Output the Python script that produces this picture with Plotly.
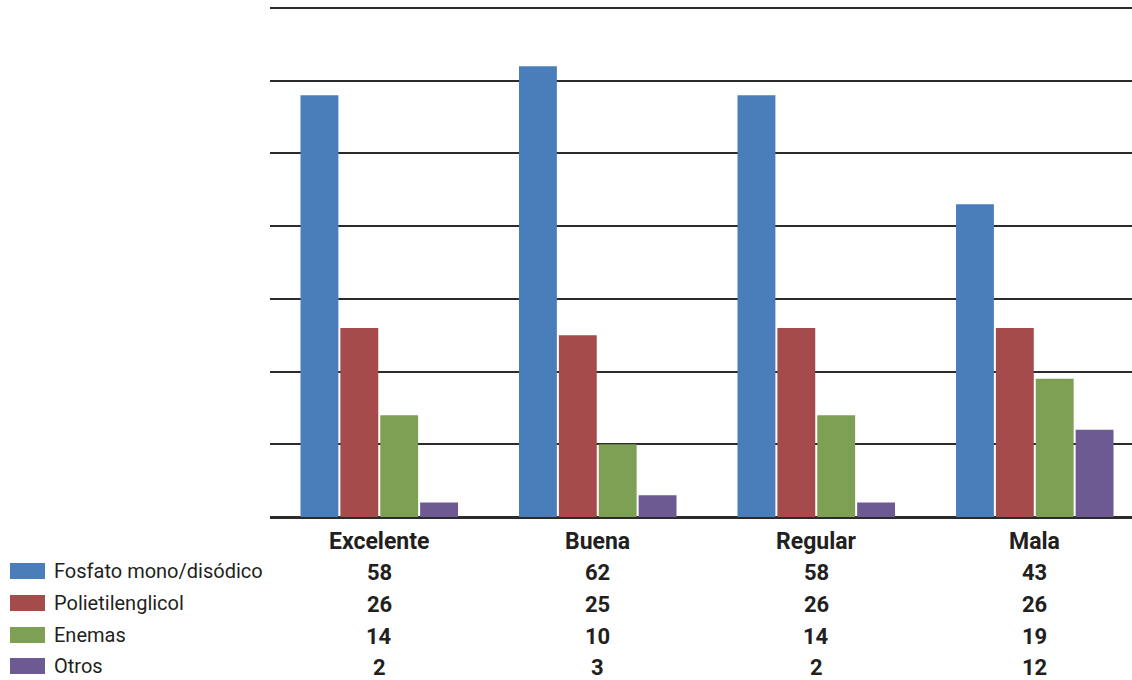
import plotly.graph_objects as go

categories = ["Excelente", "Buena", "Regular", "Mala"]
series_names = ["Fosfato mono/disódico", "Polietilenglicol", "Enemas", "Otros"]
fosfato = [58, 62, 58, 43]
polietilenglicol = [26, 25, 26, 26]
enemas = [14, 10, 14, 19]
otros = [2, 3, 2, 12]
series_values = [fosfato, polietilenglicol, enemas, otros]
colors = ["#4a7ebb", "#a64b4b", "#7ea055", "#6e5a93"]

W, H = 1132, 680
ML, MT, MB = 270, 6, 163
Y_TOP = 70.28
plot_h = H - MT - MB
plot_w = W - ML

fig = go.Figure()
for name, vals, col in zip(series_names, series_values, colors):
    fig.add_trace(go.Bar(name=name, x=categories, y=vals, marker=dict(color=col, line=dict(width=0)),
                         showlegend=False))

text_col = "#231f20"
font_fam = "Roboto"

def py(pix):
    # pixel row -> paper y
    return (H - MB - pix) / plot_h

def px(pix):
    return (pix - ML) / plot_w

annotations = []
# category headers
for c in categories:
    annotations.append(dict(x=c, xref="x", y=py(541), yref="paper", text=f"<b>{c}</b>",
                            showarrow=False, font=dict(family=font_fam, size=23, color=text_col),
                            xanchor="center", yanchor="middle"))
row_y = [571, 603, 635, 666]
shapes = []
for name, vals, col, ry in zip(series_names, series_values, colors, row_y):
    annotations.append(dict(x=px(52), xref="paper", y=py(ry), yref="paper", text=name,
                            showarrow=False, font=dict(family=font_fam, size=20, color=text_col),
                            xanchor="left", yanchor="middle", height=22))
    shapes.append(dict(type="rect", xref="paper", yref="paper", x0=px(10), x1=px(45),
                       y0=py(ry + 8), y1=py(ry - 8), fillcolor=col, line=dict(width=0)))
    for c, v in zip(categories, vals):
        annotations.append(dict(x=c, xref="x", y=py(ry + 1), yref="paper", text=f"<b>{v}</b>",
                                showarrow=False, font=dict(family=font_fam, size=22, color=text_col),
                                xanchor="center", yanchor="middle", height=22))

fig.update_layout(
    width=W, height=H,
    margin=dict(l=ML, r=0, t=MT, b=MB, pad=0),
    barmode="group", bargap=0.27, bargroupgap=0.05,
    plot_bgcolor="white", paper_bgcolor="white",
    xaxis=dict(range=[-0.5, 3.445], showticklabels=False, showgrid=False, zeroline=False,
               showline=False, ticks=""),
    yaxis=dict(range=[0, Y_TOP], tickvals=list(range(0, 71, 10)), showticklabels=False, showgrid=True,
               gridcolor="#2b2b2b", gridwidth=2, zeroline=True, zerolinecolor="#2b2b2b",
               zerolinewidth=3, showline=False, ticks=""),
    annotations=annotations, shapes=shapes,
)

fig.write_html("out.html")
